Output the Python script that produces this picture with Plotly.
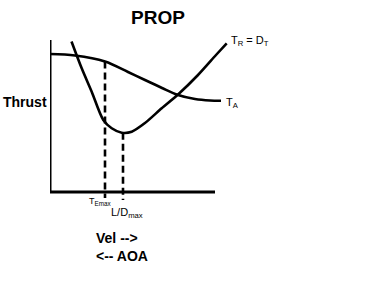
import plotly.graph_objects as go

# Data (velocity units, thrust units)
ta_x = [0, 25, 55, 78, 95, 112, 128, 145, 160, 171]
ta_y = [138, 136.5, 130.5, 120, 112, 104, 97, 93, 91.5, 91.3]

tr_x = [21.5, 31.7, 41.7, 53.3, 61.7, 71.7, 81.7, 95, 111.7, 128.3, 148, 166, 176.7]
tr_y = [150.5, 123.7, 100.3, 72, 63.7, 59.3, 60.3, 69, 83.7, 97.7, 117, 137, 148.7]

drop_x = [55, 73]
drop_top = [130.5, 59.3]
drop_bottom = [-6, -8]

XR = [0, 190]
YR = [-10, 152]

def px(x):
    return (x - XR[0]) / (XR[1] - XR[0])

def py(y):
    return (y - YR[0]) / (YR[1] - YR[0])

fnt = "Liberation Sans, Arial, sans-serif"
fig = go.Figure()
fig.add_trace(go.Scatter(x=ta_x, y=ta_y, mode="lines", line=dict(color="black", width=2.6, shape="spline", smoothing=0.9)))
fig.add_trace(go.Scatter(x=tr_x, y=tr_y, mode="lines", line=dict(color="black", width=2.6, shape="spline", smoothing=0.8)))
for xx, yt, yb in zip(drop_x, drop_top, drop_bottom):
    fig.add_trace(go.Scatter(x=[xx, xx], y=[yt, yb], mode="lines",
                             line=dict(color="black", width=2.6, dash="7px,4px")))

# axes lines
fig.add_shape(type="line", x0=0, x1=0, y0=0, y1=152, xref="x", yref="y", line=dict(color="black", width=3))
fig.add_shape(type="line", x0=0, x1=165, y0=0, y1=0, xref="x", yref="y", line=dict(color="black", width=3))

ann = [
    dict(x=50, y=-9, text="T<sub>Emax</sub>", size=9, xanchor="center"),
    dict(x=77, y=-21, text="L/D<sub>max</sub>", size=11, xanchor="center"),
    dict(x=179, y=151, text="T<sub>R</sub> = D<sub>T</sub>", size=11, xanchor="left"),
    dict(x=174, y=89, text="T<sub>A</sub>", size=11, xanchor="left"),
    dict(x=-49, y=90, text="<b>Thrust</b>", size=14, xanchor="left"),
    dict(x=44, y=-46, text="<b>Vel --></b>", size=14, xanchor="left"),
    dict(x=44, y=-64, text="<b><-- AOA</b>", size=14, xanchor="left"),
]
for a in ann:
    fig.add_annotation(x=px(a["x"]), y=py(a["y"]), xref="paper", yref="paper", text=a["text"],
                       showarrow=False, xanchor=a["xanchor"], yanchor="middle",
                       font=dict(family=fnt, size=a["size"], color="black"))

fig.update_layout(
    width=387, height=290,
    margin=dict(l=50, r=147, t=40, b=88),
    paper_bgcolor="white", plot_bgcolor="white",
    showlegend=False,
    title=dict(text="<b>PROP</b>", x=158 / 387, xanchor="center", y=1 - 17 / 290, yanchor="middle",
               font=dict(family=fnt, size=19, color="black")),
    xaxis=dict(range=XR, visible=False, fixedrange=True),
    yaxis=dict(range=YR, visible=False, fixedrange=True),
)
fig.write_html("out.html", config={"displayModeBar": False})
